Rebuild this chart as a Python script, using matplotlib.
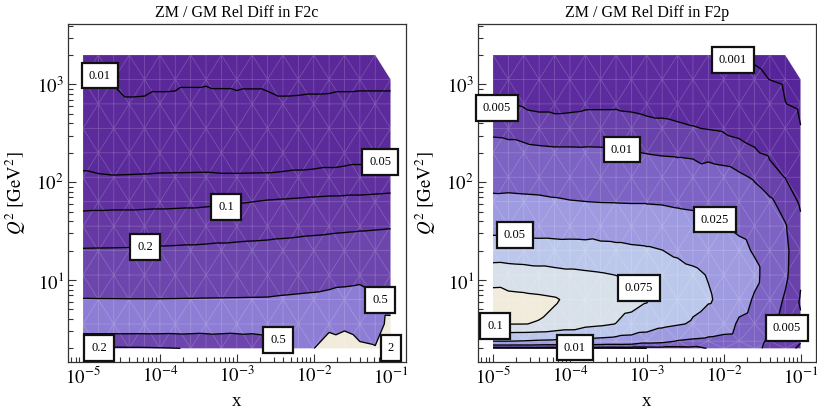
import numpy as np
import matplotlib
matplotlib.use("Agg")
import matplotlib.pyplot as plt
import matplotlib.tri as mtri

plt.rcParams['font.family'] = ['Liberation Serif', 'DejaVu Serif']
plt.rcParams['mathtext.fontset'] = 'stix'

nan = float('nan')

# ---------------- data ----------------
x_nodes = [1.000e-5, 1.585e-5, 2.512e-5, 3.981e-5, 6.310e-5,
           1.000e-4, 1.585e-4, 2.512e-4, 3.981e-4, 6.310e-4,
           1.000e-3, 1.585e-3, 2.512e-3, 3.981e-3, 6.310e-3,
           1.000e-2, 1.585e-2, 2.512e-2, 3.981e-2, 6.310e-2, 1.000e-1]

q2_f2c = [2.0, 3.557, 6.325, 11.25, 20.0, 35.57, 63.25, 112.5, 200.0, 355.7, 632.5, 1125.0, 2000.0]
q2_f2p = [2.0, 2.371, 3.557, 6.325, 11.25, 20.0, 35.57, 63.25, 112.5, 200.0, 355.7, 632.5, 1125.0, 2000.0]

f2c_levels = [0.01, 0.05, 0.1, 0.2, 0.5, 2]
f2p_levels = [0.001, 0.005, 0.01, 0.025, 0.05, 0.075, 0.1]

# rows: increasing Q2 ; columns: x_nodes
f2c_rel_diff = [
    [.17, .17, .172, .175, .178, .185, .195, .21, .23, .25, .27, .29, .33, .45, .8, 1.95, 3.5, 3.0, 2.3, 2.15, 2.6],
    [.72, .72, .7187, .7167, .7147, .71, .7033, .6933, .68, .6667, .6533, .64, .667, .68, .9, 1.0, 1.2, 1.596, 1.23, .857, 2.8],
    [.5086, .5069, .5062, .5054, .5054, .5054, .5069, .5086, .5108, .5124, .514, .5164, .5189, .5333, .5453, .5577, .5867, .6279, .6577, .5634, .5163],
    [.33, .33, .33, .33, .33, .33, .33, .33, .33, .33, .33, .33, .33, .34, .35, .36, .37, .38, .40, .40, .40],
    [.2051, .2059, .2064, .2072, .2085, .2115, .2131, .2154, .2183, .2224, .2269, .2309, .2342, .2411, .2473, .2545, .2629, .2707, .28, .2792, .2882],
    [.15, .15, .15, .15, .15, .15, .15, .15, .15, .15, .15, .152, .155, .158, .162, .166, .17, .175, .18, .185, .19],
    [.0691, .0721, .0746, .0746, .0769, .079, .0809, .0829, .0864, .091, .0949, .0995, .1034, .1056, .1078, .1103, .1125, .1131, .1134, .1152, .1175],
    [.0547, .0523, .0513, .0516, .0520, .0527, .0529, .0531, .0533, .0525, .0525, .0527, .0529, .0540, .0554, .0566, .0586, .0610, .0641, .0666, .0680],
    [.037, .037, .037, .037, .037, .037, .037, .037, .037, .037, .037, .037, .037, .037, .037, .037, .037, .037, .037, .037, .037],
    [.022, .022, .022, .022, .022, .022, .022, .022, .022, .022, .022, .022, .022, .022, .022, .022, .022, .022, .022, .022, .022],
    [.0145, .0145, .0145, .0106, .0107, .0115, .0117, .0131, .0139, .0125, .0118, .0124, .0116, .0107, .0108, .011, .0111, .0115, .0117, .0117, .0117],
    [.0085, .0085, .0085, .0085, .0085, .0085, .0085, .0085, .0085, .0085, .0085, .0085, .0085, .0085, .0085, .0085, .0085, .0085, .0085, .0085, .0085],
    [.006, .006, .006, .006, .006, .006, .006, .006, .006, .006, .006, .006, .006, .006, .006, .006, .006, .006, .006, .006, nan],
]

f2p_rel_diff = [
    [.003, .0032, .0034, .0035, .0036, .0037, .0038, .0038, .004, .0042, .005, .0055, .0056, .0064, .0105, .012, .013, .012, .008, .006, .0045],
    [.05, .05, .049, .047, .046, .046, .045, .043, .0412, .0401, .032, .03, .024, .0215, .0197, .0154, .014, .013, .0085, .0075, .0052],
    [.101, .1005, .1003, .0992, .0945, .09, .082, .079, .0746, .0674, .066, .056, .052, .048, .0411, .04, .0207, .016, .0088, .008, .0055],
    [.1122, .1066, .1053, .104, .102, .096, .092, .088, .085, .083, .0765, .067, .062, .055, .052, .045, .036, .0225, .013, .0094, .0046],
    [.0869, .0876, .0867, .0843, .082, .080, .0785, .0771, .0748, .0729, .0739, .064, .0615, .0541, .049, .043, .036, .0306, .0145, .011, .0056],
    [.0633, .0609, .0595, .0591, .0593, .0597, .0595, .0566, .0562, .0541, .0531, .0504, .045, .043, .04, .036, .0309, .023, .0145, .0112, .0062],
    [.042, .042, .042, .041, .04, .039, .038, .0397, .0375, .0375, .0346, .0346, .0336, .0321, .0289, .0257, .021, .018, .0135, .0104, .006],
    [.0287, .0293, .0287, .0282, .0269, .0257, .0251, .0245, .0243, .024, .024, .0235, .022, .021, .0195, .0175, .016, .0129, .0109, .0079, .0043],
    [.018, .0175, .017, .0165, .016, .0155, .015, .0165, .0155, .0155, .016, .014, .0133, .0135, .0148, .0133, .0112, .0093, .0064, .0049, .0033],
    [.0127, .012, .012, .0116, .0113, .0113, .0112, .0111, .0108, .0104, .0098, .0094, .0092, .0088, .0071, .0064, .0057, .0053, .0044, .0038, .0022],
    [.0085, .0083, .0073, .0062, .0059, .0059, .0062, .0063, .0064, .006, .0057, .0055, .0053, .0051, .0049, .0047, .0045, .004, .0034, .0025, .00106],
    [.0052, .00498, .0046, .0044, .0044, .0045, .0046, .0046, .0046, .0045, .0043, .0043, .0042, .0041, .004, .0039, .0037, .0028, .0022, .00104, .0006],
    [.0037, .0036, .0035, .0034, .0034, .0035, .0036, .0036, .0036, .0036, .0034, .0034, .0033, .0032, .0031, .003, .0025, .0013, .00098, .0007, .0004],
    [.0025, .0026, .0026, .0025, .0025, .0025, .0026, .0026, .0026, .0026, .0025, .0025, .0024, .0023, .0022, .0021, .00105, .0008, .0006, .0004, nan],
]

# contour-label placement (log10 x, log10 Q2)
f2c_labels = [("0.01", -4.779, 3.091), ("0.05", -1.138, 2.207), ("0.1", -3.140, 1.746),
              ("0.2", -4.194, 1.337), ("0.5", -1.138, 0.796), ("0.5", -2.464, 0.387),
              ("0.2", -4.792, 0.305), ("2", -0.995, 0.305)]
f2p_labels = [("0.001", -1.879, 3.249), ("0.005", -4.948, 2.759), ("0.01", -3.323, 2.334),
              ("0.025", -2.113, 1.619), ("0.05", -4.714, 1.460), ("0.075", -3.101, 0.918),
              ("0.1", -4.974, 0.530), ("0.01", -3.934, 0.310), ("0.005", -1.177, 0.509)]

# band colours
f2c_colors = ['#5a2899', '#5c2b9b', '#5f309e', '#6538a4', '#6c46ad', '#8e7dd4', '#f1ebdb']
f2p_colors = ['#56259a', '#5c2c9e', '#6941ab', '#7c63c4', '#9f9be1', '#bcc8eb', '#d8e0ea', '#f1ebdb']


def triangulate(xn, qn, z):
    z = np.asarray(z, dtype=float)
    lx = np.log10(np.asarray(xn))
    lq = np.log10(np.asarray(qn))
    X, Y = np.meshgrid(lx, lq)
    nr, nc = z.shape
    zf = z.ravel()
    tris = []
    for i in range(nr - 1):
        for j in range(nc - 1):
            a, b = i * nc + j, i * nc + j + 1
            c, d = (i + 1) * nc + j, (i + 1) * nc + j + 1
            good = [k for k in (a, b, d, c) if np.isfinite(zf[k])]
            if len(good) == 3:
                tris.append(good)
            elif len(good) == 4:
                if (i + j) % 2 == 0:
                    tris += [(a, b, c), (b, d, c)]
                else:
                    tris += [(a, b, d), (a, d, c)]
    tri = mtri.Triangulation(X.ravel(), Y.ravel(), np.array(tris))
    zz = np.where(np.isfinite(zf), zf, 0.0)
    return tri, zz


fig = plt.figure(figsize=(8.17, 4.12), dpi=100)
axw, axh = 338 / 817, 338 / 412
ax1 = fig.add_axes([68 / 817, 1 - 362 / 412, axw, axh])
ax2 = fig.add_axes([478 / 817, 1 - 362 / 412, axw, axh])


def draw(ax, qn, z, levels, colors, labels, title):
    tri, zz = triangulate(x_nodes, qn, z)
    bounds = [-1.0] + list(levels) + [1e3]
    ax.tricontourf(tri, zz, levels=bounds, colors=colors, zorder=1, antialiased=True)
    ax.triplot(tri, color='white', alpha=0.2, lw=0.55, zorder=2)
    ax.tricontour(tri, zz, levels=levels, colors='black', linewidths=0.95, zorder=3)
    for s, lx, ly in labels:
        ax.text(lx, ly, s, ha='center', va='center', fontsize=9, zorder=6,
                bbox=dict(boxstyle='square,pad=0.55', fc='white', ec='#111111', lw=1.6))

    ax.set_xlim(-5.195, -0.80)
    ax.set_ylim(0.162, 3.618)
    xmaj = [-5, -4, -3, -2, -1]
    ymaj = [1, 2, 3]
    ax.set_xticks(xmaj)
    ax.set_xticklabels([r'$10^{%d}$' % e for e in xmaj])
    ax.set_yticks(ymaj)
    ax.set_yticklabels([r'$10^{%d}$' % e for e in ymaj])
    xmin = [np.log10(k) + n for n in range(-6, 0) for k in range(2, 10)]
    xmin = [v for v in xmin if -5.195 < v < -0.80]
    ymin = [np.log10(k) + n for n in range(0, 4) for k in range(2, 10)]
    ymin = [v for v in ymin if 0.162 < v < 3.618]
    ax.set_xticks(xmin, minor=True)
    ax.set_yticks(ymin, minor=True)
    ax.tick_params(which='both', direction='in', top=False, right=False,
                   color='#333333', width=0.8, labelsize=13.5, pad=3)
    ax.tick_params(which='major', length=6)
    ax.tick_params(which='minor', length=3.5)
    for sp in ax.spines.values():
        sp.set_color('#333333')
        sp.set_linewidth(0.9)
    ax.set_title(title, fontsize=11.5, pad=5)
    ax.set_xlabel('x', fontsize=13.5, labelpad=4)
    ax.set_ylabel(r'$Q^2\ [\mathrm{GeV}^2]$', fontsize=13.5, labelpad=6)


draw(ax1, q2_f2c, f2c_rel_diff, f2c_levels, f2c_colors, f2c_labels, 'ZM / GM Rel Diff in F2c')
draw(ax2, q2_f2p, f2p_rel_diff, f2p_levels, f2p_colors, f2p_labels, 'ZM / GM Rel Diff in F2p')

fig.savefig('out.png', dpi=100)
